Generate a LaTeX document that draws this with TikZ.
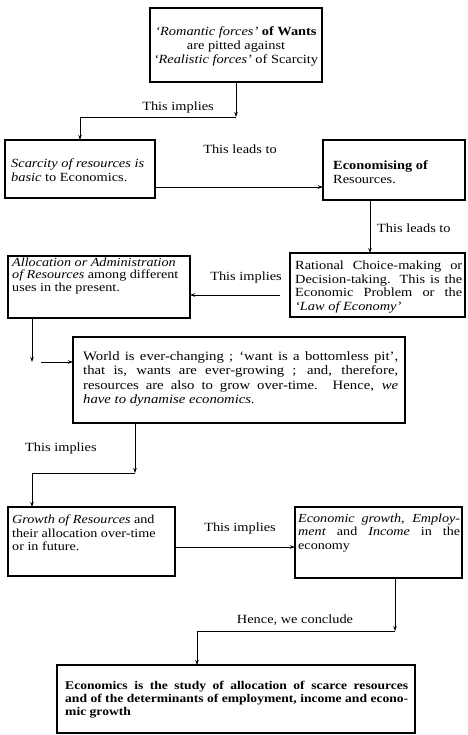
\documentclass[tikz,border=0pt]{standalone}
\usepackage{fontspec}
\setmainfont[FakeStretch=1.15]{Liberation Serif}
\usetikzlibrary{arrows.meta}
\begin{document}
\begin{tikzpicture}[x=1pt,y=-1pt,
 box/.style={draw, line width=1.3pt, rectangle, inner sep=0pt, outer sep=0pt, anchor=north west},
 txt/.style={inner sep=0pt, anchor=west, font=\fontsize{12.5}{14}\selectfont, align=left},
 lbl/.style={inner sep=0pt, font=\fontsize{12.5}{14}\selectfont},
 arr/.style={line width=0.7pt, -{Stealth[length=5pt,width=3.5pt]}},
 ln/.style={line width=0.7pt}]
\useasboundingbox (0,0) rectangle (467,735);
% boxes
\node[box, minimum width=172pt, minimum height=74pt] (b1) at (150,8) {};
\node[box, minimum width=150pt, minimum height=58pt] (b2) at (5,140) {};
\node[box, minimum width=142pt, minimum height=60pt] (b3) at (323,140) {};
\node[box, minimum width=175pt, minimum height=64pt] (b4) at (290,253) {};
\node[box, minimum width=182pt, minimum height=62pt] (b5) at (8,256) {};
\node[box, minimum width=332pt, minimum height=86pt] (b6) at (73,337) {};
\node[box, minimum width=167pt, minimum height=69pt] (b7) at (8,507) {};
\node[box, minimum width=167pt, minimum height=71pt] (b8) at (295,507) {};
\node[box, minimum width=358pt, minimum height=68pt] (b9) at (57,665) {};
% texts
\node[txt, anchor=center, align=center] (t1) at (236,46) {\textit{‘Romantic forces’} \textbf{of Wants}\\ are pitted against\\ \textit{‘Realistic forces’} of Scarcity};
\node[txt] (t2) at (11,170) {\textit{Scarcity of resources is}\\ \textit{basic} to Economics.};
\node[txt] (t3) at (333,172) {\textbf{Economising of}\\ Resources.};
\node[txt, text width=167pt, align=justify, font=\fontsize{12.5}{13.7}\selectfont] (t4) at (295,287) {Rational Choice-making or\linebreak Decision-taking. This is the\linebreak Economic Problem or the\linebreak \textit{‘Law of Economy’}};
\node[txt, font=\fontsize{12.3}{12.7}\selectfont] (t5) at (12,276) {\textit{Allocation or Administration}\\ \textit{of Resources} among different\\ uses in the present.};
\node[txt, text width=315pt, align=justify, font=\fontsize{12.8}{14.2}\selectfont] (t6) at (83,379) {World is ever-changing ; ‘want is a bottomless pit’,\linebreak that is, wants are ever-growing ; and, therefore,\linebreak resources are also to grow over-time. Hence, \textit{we}\linebreak \textit{have to dynamise economics.}};
\node[txt, font=\fontsize{12.3}{13.5}\selectfont] (t7) at (12,533) {\textit{Growth of Resources} and\\ their allocation over-time\\ or in future.};
\node[txt, text width=162pt, align=justify, font=\fontsize{12.3}{13.5}\selectfont] (t8) at (298,533) {\textit{Economic growth, Employ-}\linebreak \textit{ment} and \textit{Income} in the\linebreak economy};
\node[txt, text width=343pt, align=justify, font=\bfseries\fontsize{11.8}{13}\selectfont] (t9) at (65,700) {Economics is the study of allocation of scarce resources\linebreak and of the determinants of employment, income and econo-\linebreak mic growth};
% connectors
\coordinate (k1) at (236,117);
\coordinate (k2) at (80,117);
\draw[arr] (b1.south -| k1) -- (k1);
\draw[ln] (k1) -- (k2);
\draw[arr] (k2) -- (b2.north -| k2);
\node[lbl] (l1) at (178,107) {This implies};

\coordinate (y1) at (0,187);
\draw[arr] (b2.east |- y1) -- (b3.west |- y1);
\node[lbl] (l2) at (240,149) {This leads to};

\coordinate (v2) at (370,0);
\draw[arr] (b3.south -| v2) -- (b4.north -| v2);
\node[lbl, anchor=west] (l3) at (377,228) {This leads to};

\coordinate (y4) at (0,295);
\draw[arr] ([xshift=-10pt]b4.west |- y4) -- (b5.east |- y4);
\node[lbl] (l4) at (246,277) {This implies};

\coordinate (k3) at (32,362);
\draw[arr] (b5.south -| k3) -- (k3);
\draw[arr] ([xshift=9pt]k3) -- (b6.west |- k3);

\coordinate (k4) at (135,473);
\coordinate (k5) at (32,473);
\draw[arr] (b6.south -| k4) -- (k4);
\draw[ln] (k4) -- (k5);
\draw[arr] (k5) -- (b7.north -| k5);
\node[lbl, anchor=west] (l5) at (25,448) {This implies};

\coordinate (y7) at (0,547);
\draw[arr] (b7.east |- y7) -- (b8.west |- y7);
\node[lbl] (l6) at (240,528) {This implies};

\coordinate (k6) at (395,631);
\coordinate (k7) at (197,631);
\draw[arr] (b8.south -| k6) -- (k6);
\draw[ln] (k6) -- (k7);
\draw[arr] (k7) -- (b9.north -| k7);
\node[lbl] (l7) at (295,620) {Hence, we conclude};
\end{tikzpicture}
\end{document}
